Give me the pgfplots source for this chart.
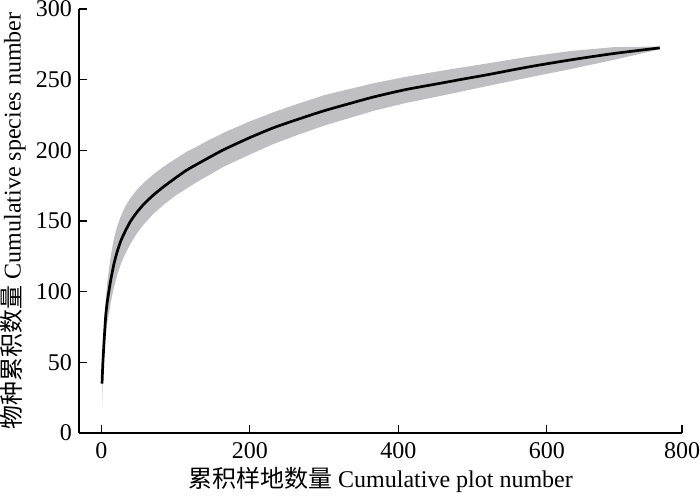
\documentclass[border=0pt]{standalone}
\usepackage{pgfplots}
\pgfplotsset{compat=1.18}
\usepackage{fontspec}
\setmainfont{Liberation Serif}
\newfontfamily\cjk{Noto Sans CJK SC}
\definecolor{bandgray}{RGB}{191,190,194}
\begin{document}
\begin{tikzpicture}
\begin{axis}[
  width=301.5pt, height=212pt, scale only axis,
  xmin=-30, xmax=782, ymin=0, ymax=300,
  axis x line*=bottom, axis y line*=left,
  axis line style={line width=0.6pt, black},
  tick align=inside, major tick length=4pt,
  tick style={black, line width=0.6pt},
  xtick={0,200,400,600,782}, xticklabels={0,200,400,600,800},
  ytick={0,50,100,150,200,250,300},
  /pgf/number format/assume math mode=true,
  every tick label/.append style={font=\fontsize{12}{14}\selectfont},
  xticklabel style={yshift=-1pt},
  label style={font=\fontsize{12}{14}\selectfont},
  xlabel={{\cjk 累积样地数量} Cumulative plot number},
  ylabel={{\cjk 物种累积数量} Cumulative species number},
  xlabel style={at={(axis description cs:0.5,0)}, anchor=center, yshift=-23.5pt},
  ylabel style={at={(axis description cs:0,0.5)}, anchor=center, yshift=33pt},
]
% band: upper then lower reversed
\addplot[fill=bandgray, draw=none] coordinates {
(1,36) (2,52) (3,65) (4,76) (6,94) (8,106) (10,114.5) (13,126) (17,137.5) (21,145.5)
(26,153) (32,160) (39,166) (47,171.5) (57,177) (70,183) (84,188.5) (100,194)
(115,199) (130,203) (142,206.5) (165,212.5) (200,220.5) (232,227) (265,233)
(300,239) (335,243.5) (367,247.5) (410,252) (457,256.2) (490,259) (520,261.5)
(575,266.2) (632,270.3) (690,273) (752,273.5)
(752,271.5) (690,264) (632,257.5) (575,251.5) (520,245.5) (490,242.2) (457,238.5)
(410,233.5) (367,228) (335,223) (300,217.5) (265,211) (232,204.5) (200,197)
(165,188.5) (142,181.5) (130,178) (115,173) (100,168) (84,161.5) (70,155)
(57,147.5) (47,140.5) (39,133.5) (32,126.5) (26,119) (21,111) (17,103) (13,93)
(10,83.5) (8,78) (6,69) (4,55) (3,47) (2,36) (1,19)
} -- cycle;
% mean curve
\addplot[black, line width=1.35pt, smooth, tension=0.4] coordinates {
(1,35) (2,48) (3,58) (4,67) (6,83) (8,92.5) (10,99.5) (13,109) (17,119.5) (21,127.5)
(26,135.5) (32,142.5) (39,149.5) (47,155.5) (57,161.8) (70,168.3) (84,174.3) (100,180.5)
(115,186) (130,190.5) (142,194) (165,200.5) (200,209) (232,216) (265,222)
(300,228) (335,233.2) (367,237.8) (410,243) (457,247.5) (490,250.7) (520,253.5)
(575,259) (632,264) (690,268.5) (752,272.5)
};
\end{axis}
\pgfresetboundingbox
\useasboundingbox (-39.5pt,-31pt) rectangle (310.5pt,216.5pt);
\end{tikzpicture}
\end{document}
